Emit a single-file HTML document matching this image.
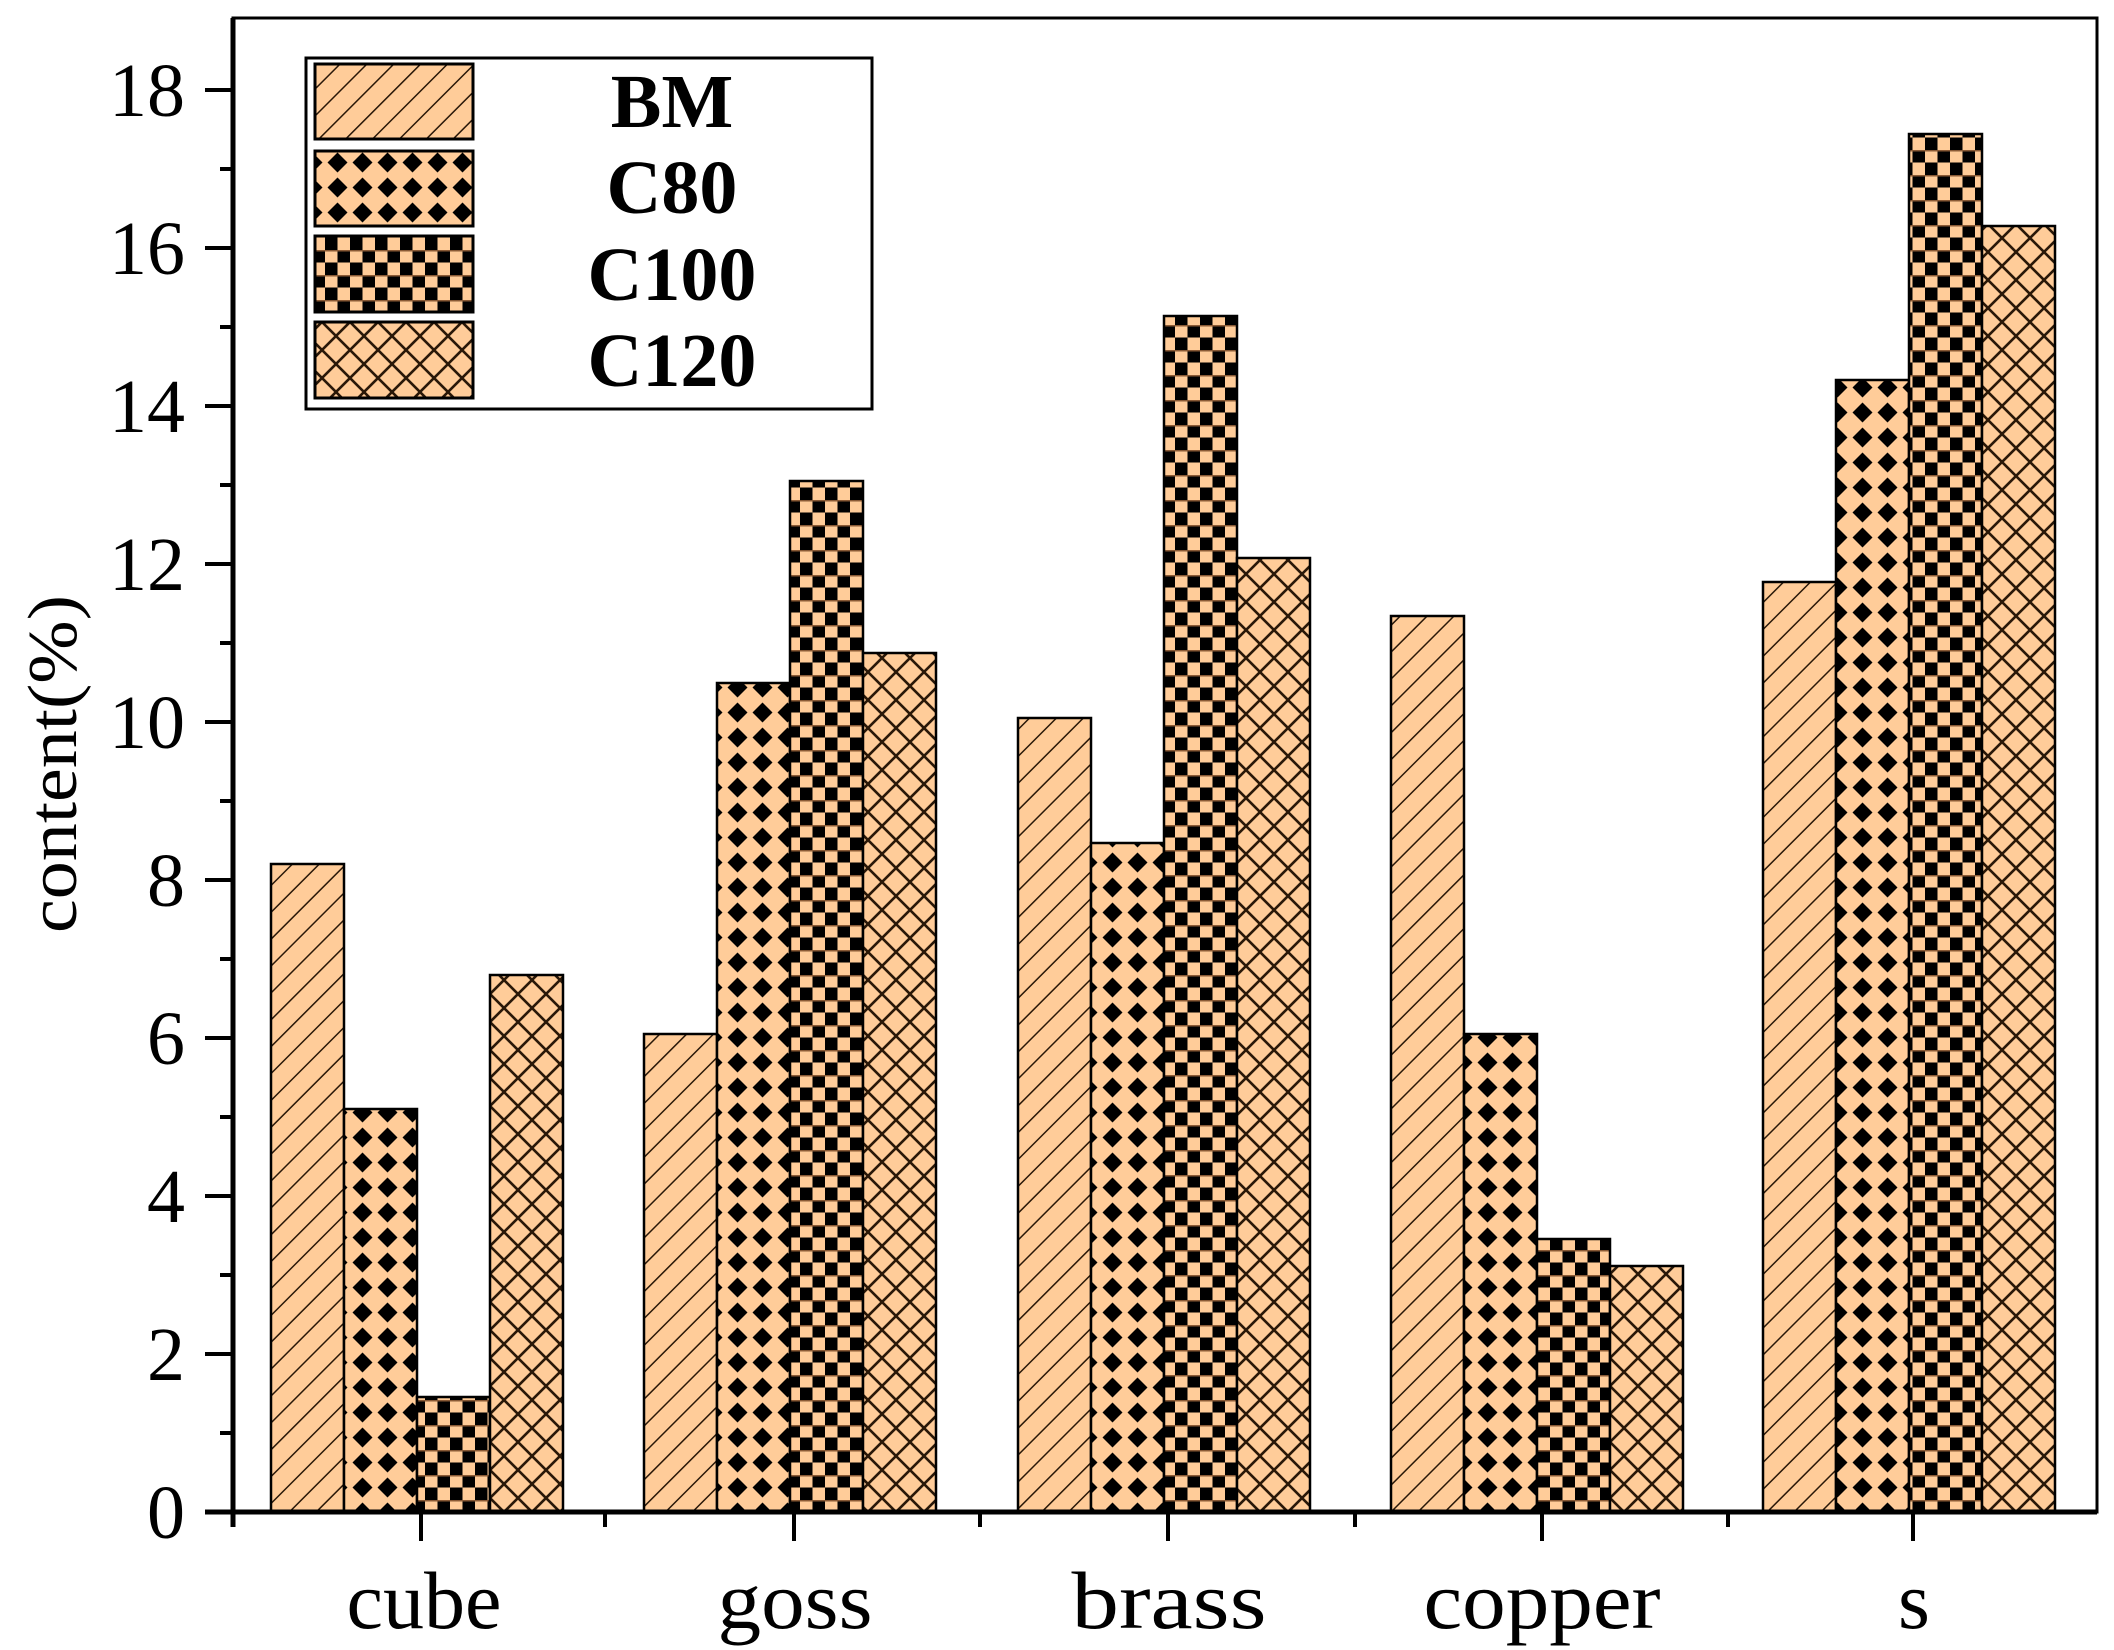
<!DOCTYPE html>
<html><head><meta charset="utf-8"><style>html,body{margin:0;padding:0;background:#fff}svg{display:block}</style></head><body>
<svg width="2114" height="1650" viewBox="0 0 2114 1650" xmlns="http://www.w3.org/2000/svg">
<defs>
<pattern id="pBM" patternUnits="userSpaceOnUse" width="19" height="19" patternTransform="rotate(45)">
<rect width="19" height="19" fill="#FFCC99"/><line x1="0" y1="0" x2="0" y2="19" stroke="#2a1808" stroke-width="3"/></pattern>
<pattern id="pC80" patternUnits="userSpaceOnUse" width="25" height="25">
<rect width="25" height="25" fill="#FFCC99"/><polygon points="12.5,2.5 22.5,12.5 12.5,22.5 2.5,12.5" fill="#000"/></pattern>
<pattern id="pC100" patternUnits="userSpaceOnUse" width="25" height="25">
<rect width="25" height="25" fill="#FFCC99"/><rect x="0" y="12.5" width="12.5" height="12.5" fill="#000"/><rect x="12.5" y="0" width="12.5" height="12.5" fill="#000"/>
<line x1="0" y1="0.5" x2="25" y2="0.5" stroke="#8a5a35" stroke-width="2"/></pattern>
<pattern id="pC120" patternUnits="userSpaceOnUse" width="28" height="28">
<rect width="28" height="28" fill="#FFCC99"/><path d="M0 0L28 28M28 0L0 28" stroke="#2a1808" stroke-width="2.6"/></pattern>
</defs>
<g font-family="Liberation Serif, serif" fill="#000">
<rect x="233" y="18" width="1864" height="1494" fill="none" stroke="#000" stroke-width="3"/>
<g stroke="#000" stroke-width="2.5">
<rect x="271" y="864" width="73" height="648" fill="url(#pBM)"/>
<rect x="344" y="1109" width="73" height="403" fill="url(#pC80)"/>
<rect x="417" y="1397" width="73" height="115" fill="url(#pC100)"/>
<rect x="490" y="975" width="73" height="537" fill="url(#pC120)"/>

<rect x="644" y="1034" width="73" height="478" fill="url(#pBM)"/>
<rect x="717" y="683" width="73" height="829" fill="url(#pC80)"/>
<rect x="790" y="481" width="73" height="1031" fill="url(#pC100)"/>
<rect x="863" y="653" width="73" height="859" fill="url(#pC120)"/>

<rect x="1018" y="718" width="73" height="794" fill="url(#pBM)"/>
<rect x="1091" y="843" width="73" height="669" fill="url(#pC80)"/>
<rect x="1164" y="316" width="73" height="1196" fill="url(#pC100)"/>
<rect x="1237" y="558" width="73" height="954" fill="url(#pC120)"/>

<rect x="1391" y="616" width="73" height="896" fill="url(#pBM)"/>
<rect x="1464" y="1034" width="73" height="478" fill="url(#pC80)"/>
<rect x="1537" y="1239" width="73" height="273" fill="url(#pC100)"/>
<rect x="1610" y="1266" width="73" height="246" fill="url(#pC120)"/>

<rect x="1763" y="582" width="73" height="930" fill="url(#pBM)"/>
<rect x="1836" y="380" width="73" height="1132" fill="url(#pC80)"/>
<rect x="1909" y="134" width="73" height="1378" fill="url(#pC100)"/>
<rect x="1982" y="226" width="73" height="1286" fill="url(#pC120)"/>
</g>
<line x1="233" y1="18" x2="233" y2="1527" stroke="#000" stroke-width="5"/>
<line x1="205" y1="1512" x2="2097" y2="1512" stroke="#000" stroke-width="5"/>
<g stroke="#000" stroke-width="4">
<path d="M205 1512H233M205 1354H233M205 1196H233M205 1038H233M205 880H233M205 722H233M205 564H233M205 406H233M205 248H233M205 90H233"/>
<path d="M220 1433H233M220 1275H233M220 1117H233M220 959H233M220 801H233M220 643H233M220 485H233M220 327H233M220 169H233"/>
<path d="M421 1512V1541M794 1512V1541M1168 1512V1541M1542 1512V1541M1913 1512V1541"/>
<path d="M605 1512V1527M980 1512V1527M1355 1512V1527M1728 1512V1527"/>
</g>
<g font-size="76" text-anchor="end">
<text x="185" y="1538">0</text><text x="185" y="1380">2</text><text x="185" y="1222">4</text><text x="185" y="1064">6</text><text x="185" y="906">8</text>
<text x="185" y="748">10</text><text x="185" y="590">12</text><text x="185" y="432">14</text><text x="185" y="274">16</text><text x="185" y="116">18</text>
</g>
<g font-size="82" text-anchor="middle">
<text x="424" y="1628" textLength="155" lengthAdjust="spacingAndGlyphs">cube</text>
<text x="795" y="1628" textLength="155" lengthAdjust="spacingAndGlyphs">goss</text>
<text x="1169" y="1628" textLength="195" lengthAdjust="spacingAndGlyphs">brass</text>
<text x="1542" y="1628" textLength="237" lengthAdjust="spacingAndGlyphs">copper</text>
<text x="1914" y="1628">s</text>
</g>
<text transform="translate(76,764) rotate(-90)" font-size="70" text-anchor="middle" textLength="338" lengthAdjust="spacingAndGlyphs">content(%)</text>
<rect x="306" y="58" width="566" height="351" fill="#fff" stroke="#000" stroke-width="3"/>
<g stroke="#000" stroke-width="3">
<rect x="315" y="64" width="158" height="75" fill="url(#pBM)"/>
<rect x="315" y="151" width="158" height="75" fill="url(#pC80)"/>
<rect x="315" y="236" width="158" height="76" fill="url(#pC100)"/>
<rect x="315" y="322" width="158" height="76" fill="url(#pC120)"/>
</g>
<g font-size="76" font-weight="bold" text-anchor="middle">
<text x="672" y="127">BM</text><text x="672" y="213">C80</text><text x="672" y="300">C100</text><text x="672" y="386">C120</text>
</g>
</g>
</svg>
</body></html>
